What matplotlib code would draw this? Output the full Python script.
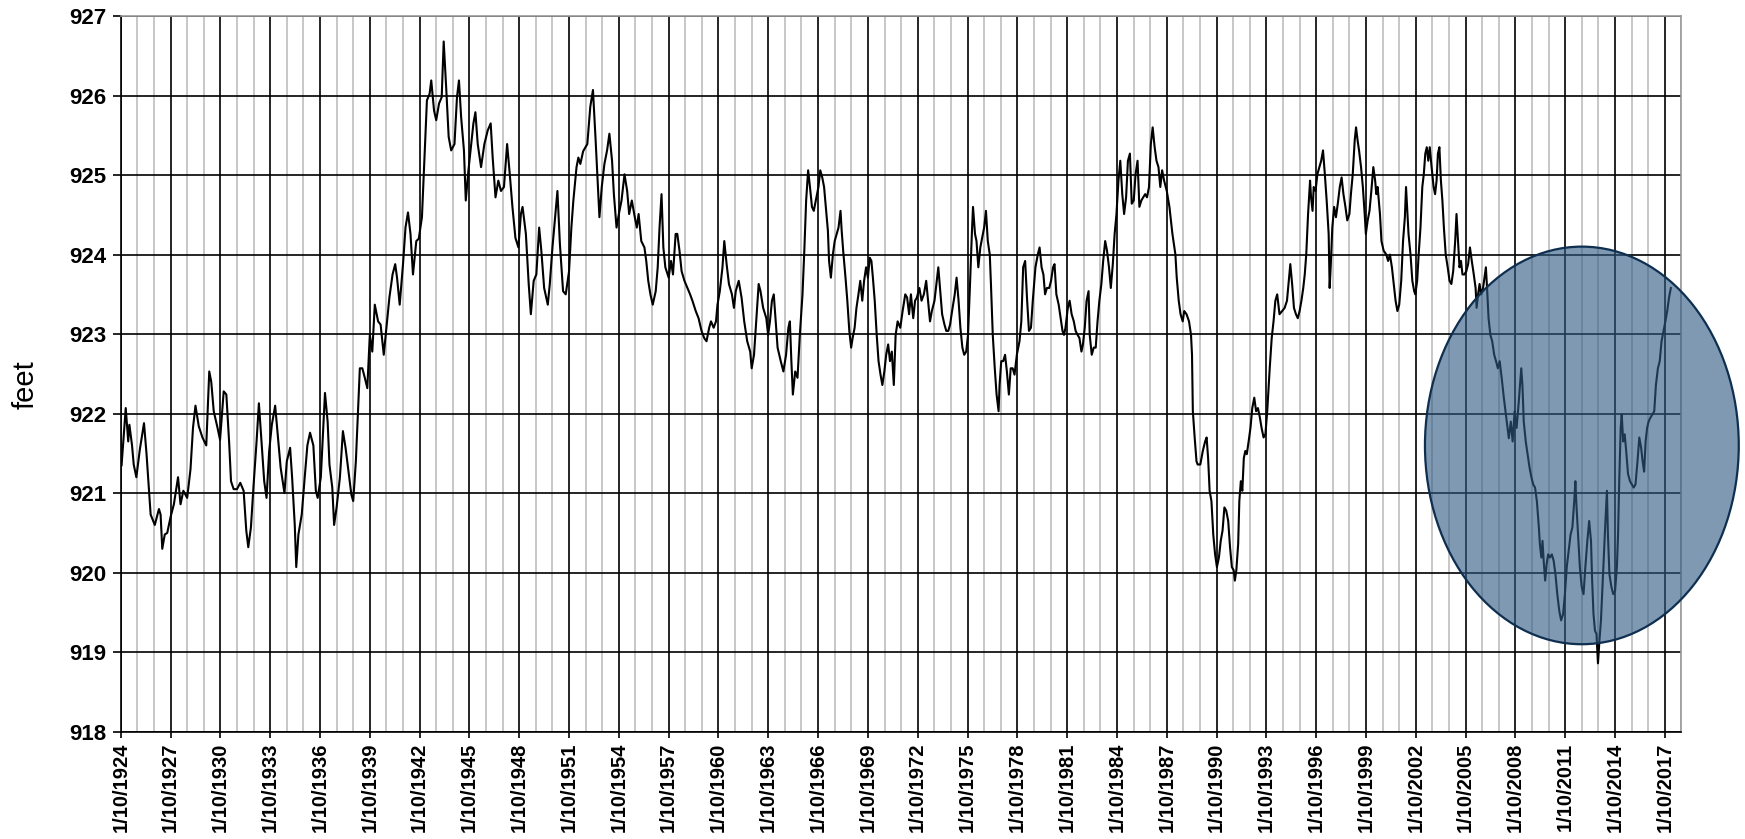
import matplotlib
matplotlib.use("Agg")
import matplotlib.pyplot as plt
from matplotlib.patches import Ellipse
from matplotlib.ticker import MultipleLocator, FixedLocator

# lake level record, decimal year vs. elevation in feet
years = [
    1924.05, 1924.3, 1924.45, 1924.52, 1924.68, 1924.78, 1924.94, 1925.15, 1925.4, 1925.55,
    1925.68, 1925.8, 1926.05, 1926.3, 1926.4, 1926.5, 1926.65, 1926.8, 1927.0, 1927.2,
    1927.45, 1927.6, 1927.77, 1928.0, 1928.2, 1928.35, 1928.5, 1928.7, 1928.92, 1929.15,
    1929.33, 1929.45, 1929.6, 1929.83, 1929.98, 1930.2, 1930.36, 1930.53, 1930.64, 1930.8,
    1931.0, 1931.2, 1931.4, 1931.56, 1931.68, 1931.84, 1932.0, 1932.18, 1932.32, 1932.48,
    1932.64, 1932.78, 1932.94, 1933.1, 1933.3, 1933.47, 1933.63, 1933.86, 1934.0, 1934.2,
    1934.32, 1934.48, 1934.57, 1934.7, 1934.9, 1935.08, 1935.24, 1935.4, 1935.6, 1935.75,
    1935.86, 1936.05, 1936.2, 1936.3, 1936.46, 1936.57, 1936.74, 1936.85, 1937.0, 1937.2,
    1937.38, 1937.54, 1937.7, 1937.89, 1938.0, 1938.16, 1938.27, 1938.4, 1938.55, 1938.7,
    1938.85, 1939.0, 1939.15, 1939.3, 1939.5, 1939.65, 1939.84, 1940.0, 1940.18, 1940.37,
    1940.53, 1940.64, 1940.8, 1941.0, 1941.15, 1941.3, 1941.45, 1941.6, 1941.8, 1941.95,
    1942.14, 1942.25, 1942.44, 1942.6, 1942.7, 1942.87, 1943.0, 1943.17, 1943.33, 1943.45,
    1943.6, 1943.75, 1943.9, 1944.1, 1944.25, 1944.37, 1944.5, 1944.67, 1944.78, 1944.94,
    1945.13, 1945.24, 1945.36, 1945.5, 1945.7, 1945.9, 1946.1, 1946.28, 1946.4, 1946.57,
    1946.74, 1946.9, 1947.08, 1947.27, 1947.43, 1947.59, 1947.77, 1947.95, 1948.1, 1948.2,
    1948.4, 1948.57, 1948.7, 1948.87, 1949.03, 1949.2, 1949.33, 1949.5, 1949.72, 1949.84,
    1950.0, 1950.18, 1950.3, 1950.45, 1950.64, 1950.8, 1951.0, 1951.14, 1951.26, 1951.45,
    1951.56, 1951.68, 1951.85, 1952.1, 1952.28, 1952.44, 1952.6, 1952.74, 1952.83, 1952.97,
    1953.13, 1953.29, 1953.43, 1953.59, 1953.7, 1953.86, 1954.0, 1954.16, 1954.34, 1954.5,
    1954.62, 1954.78, 1954.96, 1955.08, 1955.19, 1955.35, 1955.54, 1955.65, 1955.77, 1955.9,
    1956.04, 1956.22, 1956.34, 1956.45, 1956.57, 1956.68, 1956.8, 1957.0, 1957.14, 1957.26,
    1957.42, 1957.52, 1957.65, 1957.78, 1957.95, 1958.13, 1958.29, 1958.43, 1958.63, 1958.8,
    1958.98, 1959.14, 1959.28, 1959.44, 1959.55, 1959.71, 1959.85, 1959.94, 1960.08, 1960.24,
    1960.35, 1960.49, 1960.63, 1960.81, 1960.93, 1961.04, 1961.22, 1961.39, 1961.55, 1961.73,
    1961.91, 1962.0, 1962.14, 1962.3, 1962.42, 1962.53, 1962.69, 1962.88, 1962.99, 1963.1,
    1963.22, 1963.33, 1963.45, 1963.56, 1963.75, 1963.91, 1964.07, 1964.21, 1964.3, 1964.39,
    1964.48, 1964.62, 1964.76, 1964.9, 1965.06, 1965.17, 1965.28, 1965.4, 1965.51, 1965.63,
    1965.74, 1965.86, 1966.02, 1966.13, 1966.25, 1966.36, 1966.5, 1966.59, 1966.66, 1966.77,
    1966.89, 1967.0, 1967.12, 1967.23, 1967.35, 1967.42, 1967.51, 1967.65, 1967.76, 1967.88,
    1967.99, 1968.08, 1968.2, 1968.31, 1968.43, 1968.54, 1968.66, 1968.77, 1968.89, 1969.0,
    1969.11, 1969.21, 1969.3, 1969.41, 1969.53, 1969.64, 1969.76, 1969.87, 1969.99, 1970.1,
    1970.22, 1970.33, 1970.44, 1970.56, 1970.67, 1970.79, 1970.95, 1971.09, 1971.25, 1971.36,
    1971.48, 1971.59, 1971.73, 1971.84, 1971.95, 1972.1, 1972.23, 1972.37, 1972.51, 1972.62,
    1972.74, 1972.85, 1973.01, 1973.15, 1973.24, 1973.36, 1973.47, 1973.61, 1973.72, 1973.84,
    1973.95, 1974.07, 1974.23, 1974.34, 1974.46, 1974.57, 1974.69, 1974.8, 1974.92, 1975.03,
    1975.15, 1975.26, 1975.33, 1975.45, 1975.54, 1975.65, 1975.77, 1975.88, 1976.0, 1976.11,
    1976.22, 1976.34, 1976.41, 1976.52, 1976.64, 1976.75, 1976.87, 1976.93, 1977.03, 1977.15,
    1977.26, 1977.37, 1977.49, 1977.6, 1977.72, 1977.83, 1977.97, 1978.13, 1978.24, 1978.35,
    1978.47, 1978.59, 1978.7, 1978.82, 1978.93, 1979.09, 1979.23, 1979.34, 1979.46, 1979.57,
    1979.67, 1979.78, 1979.92, 1980.03, 1980.15, 1980.24, 1980.35, 1980.49, 1980.61, 1980.72,
    1980.81, 1980.9, 1981.04, 1981.15, 1981.27, 1981.4, 1981.51, 1981.63, 1981.74, 1981.86,
    1981.95, 1982.06, 1982.17, 1982.29, 1982.36, 1982.48, 1982.6, 1982.72, 1982.83, 1982.94,
    1983.06, 1983.17, 1983.29, 1983.4, 1983.52, 1983.63, 1983.75, 1983.86, 1983.97, 1984.09,
    1984.2, 1984.32, 1984.43, 1984.55, 1984.66, 1984.78, 1984.89, 1985.01, 1985.12, 1985.24,
    1985.35, 1985.47, 1985.58, 1985.7, 1985.81, 1985.93, 1986.04, 1986.15, 1986.27, 1986.38,
    1986.5, 1986.61, 1986.72, 1986.84, 1987.0, 1987.16, 1987.34, 1987.52, 1987.6, 1987.72,
    1987.83, 1987.96, 1988.05, 1988.19, 1988.34, 1988.46, 1988.52, 1988.57, 1988.68, 1988.79,
    1988.86, 1989.02, 1989.17, 1989.31, 1989.4, 1989.49, 1989.58, 1989.69, 1989.8, 1989.91,
    1990.02, 1990.14, 1990.25, 1990.36, 1990.47, 1990.58, 1990.7, 1990.81, 1990.92, 1991.03,
    1991.1, 1991.19, 1991.3, 1991.37, 1991.46, 1991.55, 1991.64, 1991.73, 1991.82, 1991.93,
    1992.04, 1992.15, 1992.27, 1992.38, 1992.49, 1992.6, 1992.71, 1992.83, 1992.94, 1993.05,
    1993.2, 1993.32, 1993.43, 1993.54, 1993.65, 1993.79, 1993.95, 1994.1, 1994.24, 1994.35,
    1994.44, 1994.55, 1994.66, 1994.78, 1994.89, 1995.0, 1995.11, 1995.22, 1995.31, 1995.4,
    1995.51, 1995.63, 1995.69, 1995.78, 1995.85, 1995.96, 1996.07, 1996.19, 1996.3, 1996.41,
    1996.52, 1996.63, 1996.75, 1996.81, 1996.88, 1996.97, 1997.08, 1997.19, 1997.3, 1997.42,
    1997.53, 1997.64, 1997.76, 1997.87, 1998.0, 1998.09, 1998.2, 1998.32, 1998.4, 1998.49,
    1998.58, 1998.7, 1998.81, 1998.92, 1998.99, 1999.1, 1999.21, 1999.32, 1999.44, 1999.55,
    1999.62, 1999.7, 1999.84, 1999.93, 2000.06, 2000.22, 2000.33, 2000.44, 2000.56, 2000.67,
    2000.78, 2000.89, 2001.0, 2001.12, 2001.23, 2001.34, 2001.41, 2001.5, 2001.56, 2001.68,
    2001.79, 2001.9, 2001.97, 2002.08, 2002.17, 2002.28, 2002.39, 2002.48, 2002.57, 2002.66,
    2002.75, 2002.84, 2002.95, 2003.07, 2003.16, 2003.25, 2003.33, 2003.42, 2003.51, 2003.6,
    2003.69, 2003.8, 2003.92, 2004.03, 2004.14, 2004.25, 2004.37, 2004.45, 2004.54, 2004.63,
    2004.72, 2004.81, 2004.92, 2005.04, 2005.15, 2005.26, 2005.37, 2005.49, 2005.6, 2005.66,
    2005.75, 2005.84, 2005.93, 2006.05, 2006.16, 2006.22, 2006.29, 2006.38, 2006.49, 2006.6,
    2006.72, 2006.83, 2006.94, 2007.05, 2007.17, 2007.3, 2007.45, 2007.6, 2007.72, 2007.83,
    2007.95, 2008.07, 2008.2, 2008.35, 2008.42, 2008.5, 2008.62, 2008.73, 2008.85, 2008.96,
    2009.07, 2009.18, 2009.29, 2009.41, 2009.47, 2009.56, 2009.63, 2009.7, 2009.79, 2009.88,
    2009.97, 2010.08, 2010.19, 2010.3, 2010.41, 2010.52, 2010.64, 2010.75, 2010.87, 2010.98,
    2011.09, 2011.21, 2011.32, 2011.43, 2011.54, 2011.61, 2011.68, 2011.77, 2011.88, 2011.99,
    2012.1, 2012.21, 2012.33, 2012.44, 2012.55, 2012.62, 2012.7, 2012.79, 2012.88, 2012.97,
    2013.06, 2013.15, 2013.24, 2013.33, 2013.42, 2013.51, 2013.57, 2013.66, 2013.78, 2013.89,
    2014.0, 2014.11, 2014.18, 2014.25, 2014.34, 2014.4, 2014.49, 2014.58, 2014.67, 2014.78,
    2014.9, 2015.01, 2015.12, 2015.23, 2015.35, 2015.46, 2015.57, 2015.66, 2015.75, 2015.84,
    2015.93, 2016.02, 2016.13, 2016.25, 2016.36, 2016.46, 2016.58, 2016.69, 2016.8, 2016.92,
    2017.03, 2017.14, 2017.25, 2017.36,
]

levels = [
    921.35, 922.07, 921.65, 921.86, 921.6, 921.36, 921.2, 921.55, 921.88, 921.5,
    921.1, 920.73, 920.6, 920.8, 920.73, 920.3, 920.48, 920.5, 920.7, 920.86,
    921.2, 920.86, 921.03, 920.94, 921.3, 921.82, 922.1, 921.84, 921.7, 921.6,
    922.53, 922.4, 922.03, 921.82, 921.67, 922.28, 922.24, 921.63, 921.15, 921.05,
    921.05, 921.13, 921.03, 920.53, 920.32, 920.57, 921.1, 921.65, 922.13, 921.65,
    921.15, 920.94, 921.53, 921.86, 922.1, 921.7, 921.32, 921.0, 921.4, 921.57,
    921.2, 920.6, 920.07, 920.48, 920.73, 921.2, 921.6, 921.76, 921.6, 921.03,
    920.94, 921.2, 921.82, 922.26, 921.9, 921.36, 921.07, 920.6, 920.82, 921.2,
    921.78, 921.57, 921.3, 920.98, 920.9, 921.4, 921.95, 922.57, 922.57, 922.45,
    922.32, 922.99, 922.78, 923.37, 923.16, 923.12, 922.74, 923.08, 923.46, 923.75,
    923.88, 923.71, 923.37, 923.88, 924.34, 924.53, 924.26, 923.75, 924.17, 924.2,
    924.47, 925.01, 925.94, 926.02, 926.19, 925.81, 925.69, 925.9, 925.98, 926.68,
    926.1, 925.48, 925.31, 925.39, 925.98, 926.19, 925.73, 925.31, 924.68, 925.06,
    925.43, 925.65, 925.79, 925.39, 925.1, 925.39, 925.56, 925.65, 925.22, 924.72,
    924.93, 924.8, 924.85, 925.39, 925.01, 924.6, 924.21, 924.09, 924.51, 924.6,
    924.26, 923.63, 923.25, 923.67, 923.75, 924.34, 924.05, 923.58, 923.37, 923.63,
    924.09, 924.51, 924.8, 924.13, 923.54, 923.5, 923.79, 924.34, 924.68, 925.1,
    925.22, 925.14, 925.3, 925.39, 925.86, 926.07, 925.44, 924.85, 924.47, 924.85,
    925.14, 925.31, 925.52, 925.18, 924.76, 924.34, 924.51, 924.68, 925.01, 924.8,
    924.51, 924.68, 924.47, 924.34, 924.51, 924.17, 924.09, 923.92, 923.67, 923.5,
    923.37, 923.54, 923.84, 924.34, 924.76, 924.09, 923.84, 923.71, 923.92, 923.75,
    924.26, 924.26, 924.05, 923.79, 923.67, 923.58, 923.5, 923.42, 923.29, 923.2,
    923.04, 922.95, 922.91, 923.08, 923.16, 923.08, 923.16, 923.37, 923.54, 923.84,
    924.17, 923.88, 923.63, 923.5, 923.33, 923.54, 923.67, 923.46, 923.16, 922.91,
    922.78, 922.57, 922.74, 923.25, 923.63, 923.54, 923.33, 923.2, 922.99, 923.16,
    923.42, 923.5, 923.16, 922.83, 922.66, 922.53, 922.74, 923.08, 923.16, 922.66,
    922.24, 922.53, 922.45, 922.99, 923.5, 924.05, 924.68, 925.06, 924.85, 924.6,
    924.55, 924.68, 924.85, 925.06, 924.97, 924.85, 924.51, 924.3, 923.92, 923.71,
    924.0, 924.17, 924.26, 924.34, 924.55, 924.3, 924.05, 923.71, 923.42, 923.04,
    922.83, 922.95, 923.08, 923.33, 923.5, 923.67, 923.42, 923.67, 923.84, 923.71,
    923.96, 923.92, 923.71, 923.42, 922.99, 922.66, 922.49, 922.36, 922.53, 922.74,
    922.87, 922.66, 922.78, 922.36, 922.99, 923.16, 923.08, 923.29, 923.5, 923.46,
    923.25, 923.5, 923.2, 923.42, 923.46, 923.58, 923.42, 923.5, 923.67, 923.42,
    923.16, 923.29, 923.42, 923.67, 923.84, 923.54, 923.25, 923.12, 923.04, 923.04,
    923.12, 923.29, 923.5, 923.71, 923.42, 923.08, 922.83, 922.74, 922.78, 922.99,
    923.63, 924.26, 924.6, 924.26, 924.17, 923.84, 924.09, 924.21, 924.34, 924.55,
    924.17, 924.0, 923.63, 922.99, 922.57, 922.24, 922.03, 922.36, 922.66, 922.66,
    922.74, 922.53, 922.24, 922.57, 922.57, 922.49, 922.74, 922.91, 923.16, 923.84,
    923.92, 923.42, 923.04, 923.08, 923.42, 923.84, 924.0, 924.09, 923.84, 923.75,
    923.5, 923.58, 923.58, 923.67, 923.84, 923.88, 923.5, 923.37, 923.2, 923.04,
    922.99, 923.08, 923.33, 923.42, 923.25, 923.16, 923.04, 922.99, 922.95, 922.78,
    922.87, 923.08, 923.42, 923.54, 922.99, 922.74, 922.83, 922.83, 923.16, 923.42,
    923.63, 923.92, 924.17, 924.05, 923.84, 923.58, 923.88, 924.26, 924.51, 924.93,
    925.18, 924.76, 924.51, 924.72, 925.18, 925.27, 924.64, 924.68, 925.01, 925.18,
    924.6, 924.68, 924.72, 924.76, 924.72, 924.85, 925.39, 925.6, 925.35, 925.18,
    925.1, 924.85, 925.06, 924.93, 924.8, 924.6, 924.26, 924.0, 923.71, 923.42,
    923.25, 923.16, 923.29, 923.25, 923.16, 922.99, 922.74, 922.03, 921.7, 921.4,
    921.36, 921.36, 921.53, 921.65, 921.7, 921.44, 921.03, 920.9, 920.48, 920.23,
    920.07, 920.19, 920.4, 920.53, 920.82, 920.78, 920.65, 920.32, 920.07, 920.03,
    919.9, 920.03, 920.36, 920.9, 921.15, 921.03, 921.44, 921.53, 921.49, 921.65,
    921.82, 922.07, 922.2, 922.03, 922.07, 921.96, 921.82, 921.7, 921.74, 922.03,
    922.57, 922.95, 923.16, 923.42, 923.5, 923.25, 923.29, 923.33, 923.42, 923.67,
    923.88, 923.63, 923.33, 923.25, 923.2, 923.29, 923.42, 923.58, 923.75, 924.0,
    924.51, 924.93, 924.72, 924.55, 924.85, 924.8, 925.01, 925.1, 925.18, 925.31,
    925.01, 924.68, 924.26, 923.58, 923.88, 924.34, 924.6, 924.47, 924.64, 924.85,
    924.97, 924.76, 924.6, 924.43, 924.51, 924.76, 925.01, 925.44, 925.6, 925.44,
    925.31, 925.1, 924.85, 924.51, 924.26, 924.43, 924.55, 924.8, 925.1, 924.93,
    924.76, 924.85, 924.51, 924.17, 924.05, 924.0, 923.92, 924.0, 923.84, 923.63,
    923.42, 923.29, 923.37, 923.67, 924.17, 924.47, 924.85, 924.51, 924.26, 924.0,
    923.67, 923.54, 923.5, 923.67, 924.0, 924.34, 924.85, 925.01, 925.27, 925.35,
    925.18, 925.35, 925.1, 924.85, 924.76, 924.93, 925.27, 925.35, 924.93, 924.68,
    924.34, 924.0, 923.84, 923.67, 923.63, 923.79, 924.17, 924.51, 924.17, 923.84,
    923.92, 923.75, 923.75, 923.79, 923.88, 924.09, 923.92, 923.75, 923.58, 923.33,
    923.5, 923.63, 923.5, 923.58, 923.75, 923.84, 923.58, 923.2, 922.99, 922.91,
    922.74, 922.66, 922.57, 922.66, 922.45, 922.2, 921.95, 921.69, 921.9, 921.65,
    922.03, 921.82, 922.15, 922.57, 922.36, 921.9, 921.65, 921.49, 921.32, 921.2,
    921.11, 921.07, 920.9, 920.57, 920.36, 920.19, 920.4, 920.15, 919.9, 920.11,
    920.23, 920.19, 920.23, 920.15, 919.98, 919.73, 919.52, 919.4, 919.48, 919.73,
    920.07, 920.28, 920.48, 920.57, 920.9, 921.15, 920.82, 920.48, 920.07, 919.82,
    919.73, 920.07, 920.4, 920.65, 920.4, 919.9, 919.48, 919.27, 919.23, 918.86,
    919.15, 919.4, 919.82, 920.23, 920.65, 921.03, 920.48, 919.98, 919.82, 919.73,
    919.77, 920.07, 920.48, 921.15, 921.82, 921.99, 921.65, 921.74, 921.53, 921.24,
    921.15, 921.11, 921.07, 921.11, 921.4, 921.7, 921.57, 921.4, 921.27, 921.65,
    921.82, 921.9, 921.95, 921.99, 922.03, 922.36, 922.57, 922.66, 922.91, 923.04,
    923.16, 923.29, 923.46, 923.58,
]

tick_years = list(range(1924, 2018, 3))
tick_labels = ["1/10/%d" % y for y in tick_years]

plt.rcParams['font.family'] = ['Liberation Sans', 'DejaVu Sans']

fig = plt.figure(figsize=(17.45, 8.39), dpi=100)
ax = fig.add_axes([0.0692, 0.1279, 0.8944, 0.8530])

ax.plot(years, levels, color="black", lw=1.5, zorder=3)

ax.set_xlim(1924, 2018)
ax.set_ylim(918, 927)

ax.xaxis.set_major_locator(FixedLocator(tick_years))
ax.xaxis.set_minor_locator(MultipleLocator(1))
ax.yaxis.set_major_locator(MultipleLocator(1))
ax.set_xticklabels(tick_labels, rotation=90, fontweight="bold", fontsize=14.5)
for lab in ax.get_yticklabels():
    lab.set_fontweight("bold")
    lab.set_fontsize(16)

ax.grid(which="major", axis="both", color="black", lw=1.2)
ax.grid(which="minor", axis="x", color="#b8b8b8", lw=1.1)
ax.set_axisbelow(True)

ax.tick_params(axis="y", which="major", length=5.5, width=1.2, pad=5)
ax.tick_params(axis="x", which="major", length=4, width=1.2, pad=4)
ax.tick_params(which="minor", length=0)

for side in ["left", "bottom"]:
    ax.spines[side].set_color("black")
    ax.spines[side].set_linewidth(1.2)
for side in ["top", "right"]:
    ax.spines[side].set_color("#9a9a9a")
    ax.spines[side].set_linewidth(1.2)

fig.text(0.0145, 0.541, "feet", rotation=90, fontsize=21, ha="center", va="center")

# highlight of the recent low-water period
low = Ellipse((2012.0, 921.6), 18.9, 5.0, facecolor="#305a83", alpha=0.62,
              edgecolor="none", clip_on=False, zorder=4)
ax.add_patch(low)
ring = Ellipse((2012.0, 921.6), 18.9, 5.0, facecolor="none", edgecolor="#0e2f50",
               lw=1.6, clip_on=False, zorder=5)
ax.add_patch(ring)

fig.savefig("out.png", dpi=100)
